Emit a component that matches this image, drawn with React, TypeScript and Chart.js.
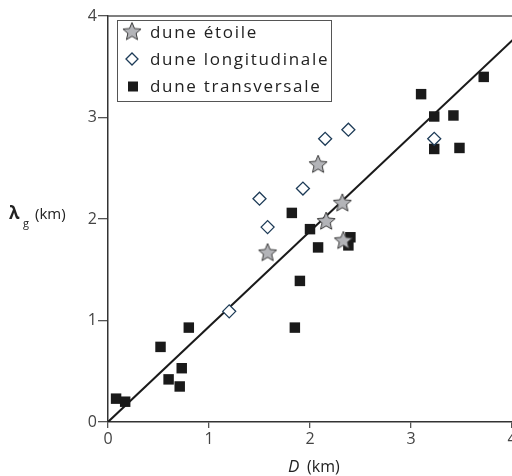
import React, { useEffect, useRef } from "react";
import { Chart, registerables } from "chart.js";

Chart.register(...registerables);

const starX = [1.58, 2.08, 2.16, 2.32, 2.33];
const starY = [1.67, 2.54, 1.98, 2.16, 1.79];

const longX = [1.5, 1.58, 1.93, 2.15, 2.38, 3.23, 1.2];
const longY = [2.2, 1.92, 2.3, 2.79, 2.88, 2.79, 1.09];

const transX = [0.08, 0.17, 0.52, 0.8, 0.6, 0.73, 0.71, 1.85, 1.9, 1.82, 2.0, 2.08, 2.4, 2.38, 3.23, 3.42, 3.23, 3.48, 3.1, 3.72];
const transY = [0.23, 0.2, 0.74, 0.93, 0.42, 0.53, 0.35, 0.93, 1.39, 2.06, 1.9, 1.72, 1.82, 1.74, 3.01, 3.02, 2.69, 2.7, 3.23, 3.4];

const fitX = [0, 4.3];
const fitY = [0, 4.04];

const xTicks = [0, 1, 2, 3, 4];
const yTicks = [0, 1, 2, 3, 4];

const legendLabels = ["dune étoile", "dune longitudinale", "dune transversale"];

const FONT = "'Open Sans', 'DejaVu Sans', sans-serif";

function makeStar(): HTMLCanvasElement {
  const c = document.createElement("canvas");
  c.width = 22;
  c.height = 22;
  const ctx = c.getContext("2d")!;
  const cx = 11, cy = 11.5, R = 9.5, r = 4.3;
  ctx.beginPath();
  for (let i = 0; i < 10; i++) {
    const a = -Math.PI / 2 + (i * Math.PI) / 5;
    const rad = i % 2 === 0 ? R : r;
    const px = cx + rad * Math.cos(a);
    const py = cy + rad * Math.sin(a);
    if (i === 0) ctx.moveTo(px, py);
    else ctx.lineTo(px, py);
  }
  ctx.closePath();
  ctx.fillStyle = "#b3b4b8";
  ctx.fill();
  ctx.strokeStyle = "#3a3a3a";
  ctx.lineWidth = 1;
  ctx.stroke();
  return c;
}

export default function App() {
  const ref = useRef<HTMLCanvasElement>(null);

  useEffect(() => {
    const star = makeStar();
    const toPts = (xs: number[], ys: number[]) => xs.map((x, i) => ({ x, y: ys[i] }));

    const annot = {
      id: "annot",
      afterDatasetsDraw(chart: any) {
        const ctx = chart.ctx;
        const a = chart.chartArea;
        ctx.save();
        // frame top
        ctx.strokeStyle = "#555";
        ctx.lineWidth = 1.5;
        ctx.beginPath();
        ctx.moveTo(a.left, a.top);
        ctx.lineTo(a.right, a.top);
        ctx.stroke();
        // legend
        ctx.fillStyle = "#fff";
        ctx.fillRect(117, 20, 215, 82);
        ctx.strokeStyle = "#555";
        ctx.lineWidth = 1;
        ctx.strokeRect(117.5, 20.5, 214, 81);
        const rows = [32, 59, 86];
        ctx.drawImage(star, 132 - 11, rows[0] - 11.5);
        // diamond
        ctx.beginPath();
        ctx.moveTo(126, rows[1]);
        ctx.lineTo(132, rows[1] - 6);
        ctx.lineTo(138, rows[1]);
        ctx.lineTo(132, rows[1] + 6);
        ctx.closePath();
        ctx.fillStyle = "#fff";
        ctx.fill();
        ctx.strokeStyle = "#1d3b57";
        ctx.lineWidth = 1.3;
        ctx.stroke();
        // square
        ctx.fillStyle = "#1a1a1a";
        ctx.fillRect(128, rows[2] - 4.5, 10, 10);
        ctx.fillStyle = "#222";
        ctx.font = `17px ${FONT}`;
        ctx.textBaseline = "middle";
        ctx.textAlign = "left";
        (ctx as any).letterSpacing = "1.7px";
        legendLabels.forEach((t, i) => ctx.fillText(t, 150, rows[i] + 1));
        (ctx as any).letterSpacing = "0px";
        // y title
        ctx.font = `bold 17px ${FONT}`;
        ctx.textBaseline = "alphabetic";
        ctx.fillText("λ", 9, 219);
        ctx.font = `11px ${FONT}`;
        ctx.fillText("g", 23, 227);
        ctx.font = `15px ${FONT}`;
        ctx.fillText("(km)", 35, 219);
        // x title
        ctx.font = `italic 17px ${FONT}`;
        ctx.fillText("D", 288, 472);
        ctx.font = `16px ${FONT}`;
        ctx.fillText("(km)", 307, 472);
        ctx.restore();
      },
    };

    const chart = new Chart(ref.current!, {
      type: "scatter",
      data: {
        datasets: [
          {
            type: "line",
            data: toPts(fitX, fitY),
            borderColor: "#1a1a1a",
            borderWidth: 2,
            pointRadius: 0,
            order: 10,
          } as any,
          {
            label: legendLabels[2],
            data: toPts(transX, transY),
            pointStyle: "rect",
            pointRadius: 7.4,
            backgroundColor: "#1a1a1a",
            borderColor: "#1a1a1a",
            borderWidth: 0,
            order: 3,
          },
          {
            label: legendLabels[1],
            data: toPts(longX, longY),
            pointStyle: "rectRot",
            pointRadius: 6.5,
            backgroundColor: "#fff",
            borderColor: "#1d3b57",
            borderWidth: 1.3,
            order: 2,
          },
          {
            label: legendLabels[0],
            data: toPts(starX, starY),
            pointStyle: star,
            pointRadius: 10,
            order: 1,
          },
        ],
      },
      options: {
        animation: false,
        responsive: false,
        layout: { padding: { left: 0, right: 28, top: 16, bottom: 0 } },
        plugins: { legend: { display: false }, tooltip: { enabled: false } },
        scales: {
          x: {
            type: "linear",
            min: 0,
            max: 4,
            afterFit: (s: any) => { s.height = 54; },
            afterBuildTicks: (s: any) => { s.ticks = xTicks.map((v) => ({ value: v })); },
            ticks: { font: { family: FONT, size: 16 }, color: "#444", padding: 2, maxRotation: 0 },
            grid: { display: true, drawOnChartArea: false, drawTicks: true, tickLength: 6, color: "#555", lineWidth: 1.3 },
            border: { display: true, color: "#333", width: 1.5 },
          },
          y: {
            type: "linear",
            min: 0,
            max: 4,
            afterFit: (s: any) => { s.width = 108; },
            afterBuildTicks: (s: any) => { s.ticks = yTicks.map((v) => ({ value: v })); },
            ticks: { font: { family: FONT, size: 16 }, color: "#444", padding: 1 },
            grid: { display: true, drawOnChartArea: false, drawTicks: true, tickLength: 10, color: "#555", lineWidth: 1.3 },
            border: { display: true, color: "#333", width: 1.5 },
          },
        },
      },
      plugins: [annot],
    });
    return () => chart.destroy();
  }, []);

  return (
    <div style={{ position: "fixed", left: 0, top: 0, width: 512, height: 476, overflow: "hidden", background: "#fff" }}>
      <canvas ref={ref} width={540} height={476} style={{ display: "block" }} />
    </div>
  );
}
